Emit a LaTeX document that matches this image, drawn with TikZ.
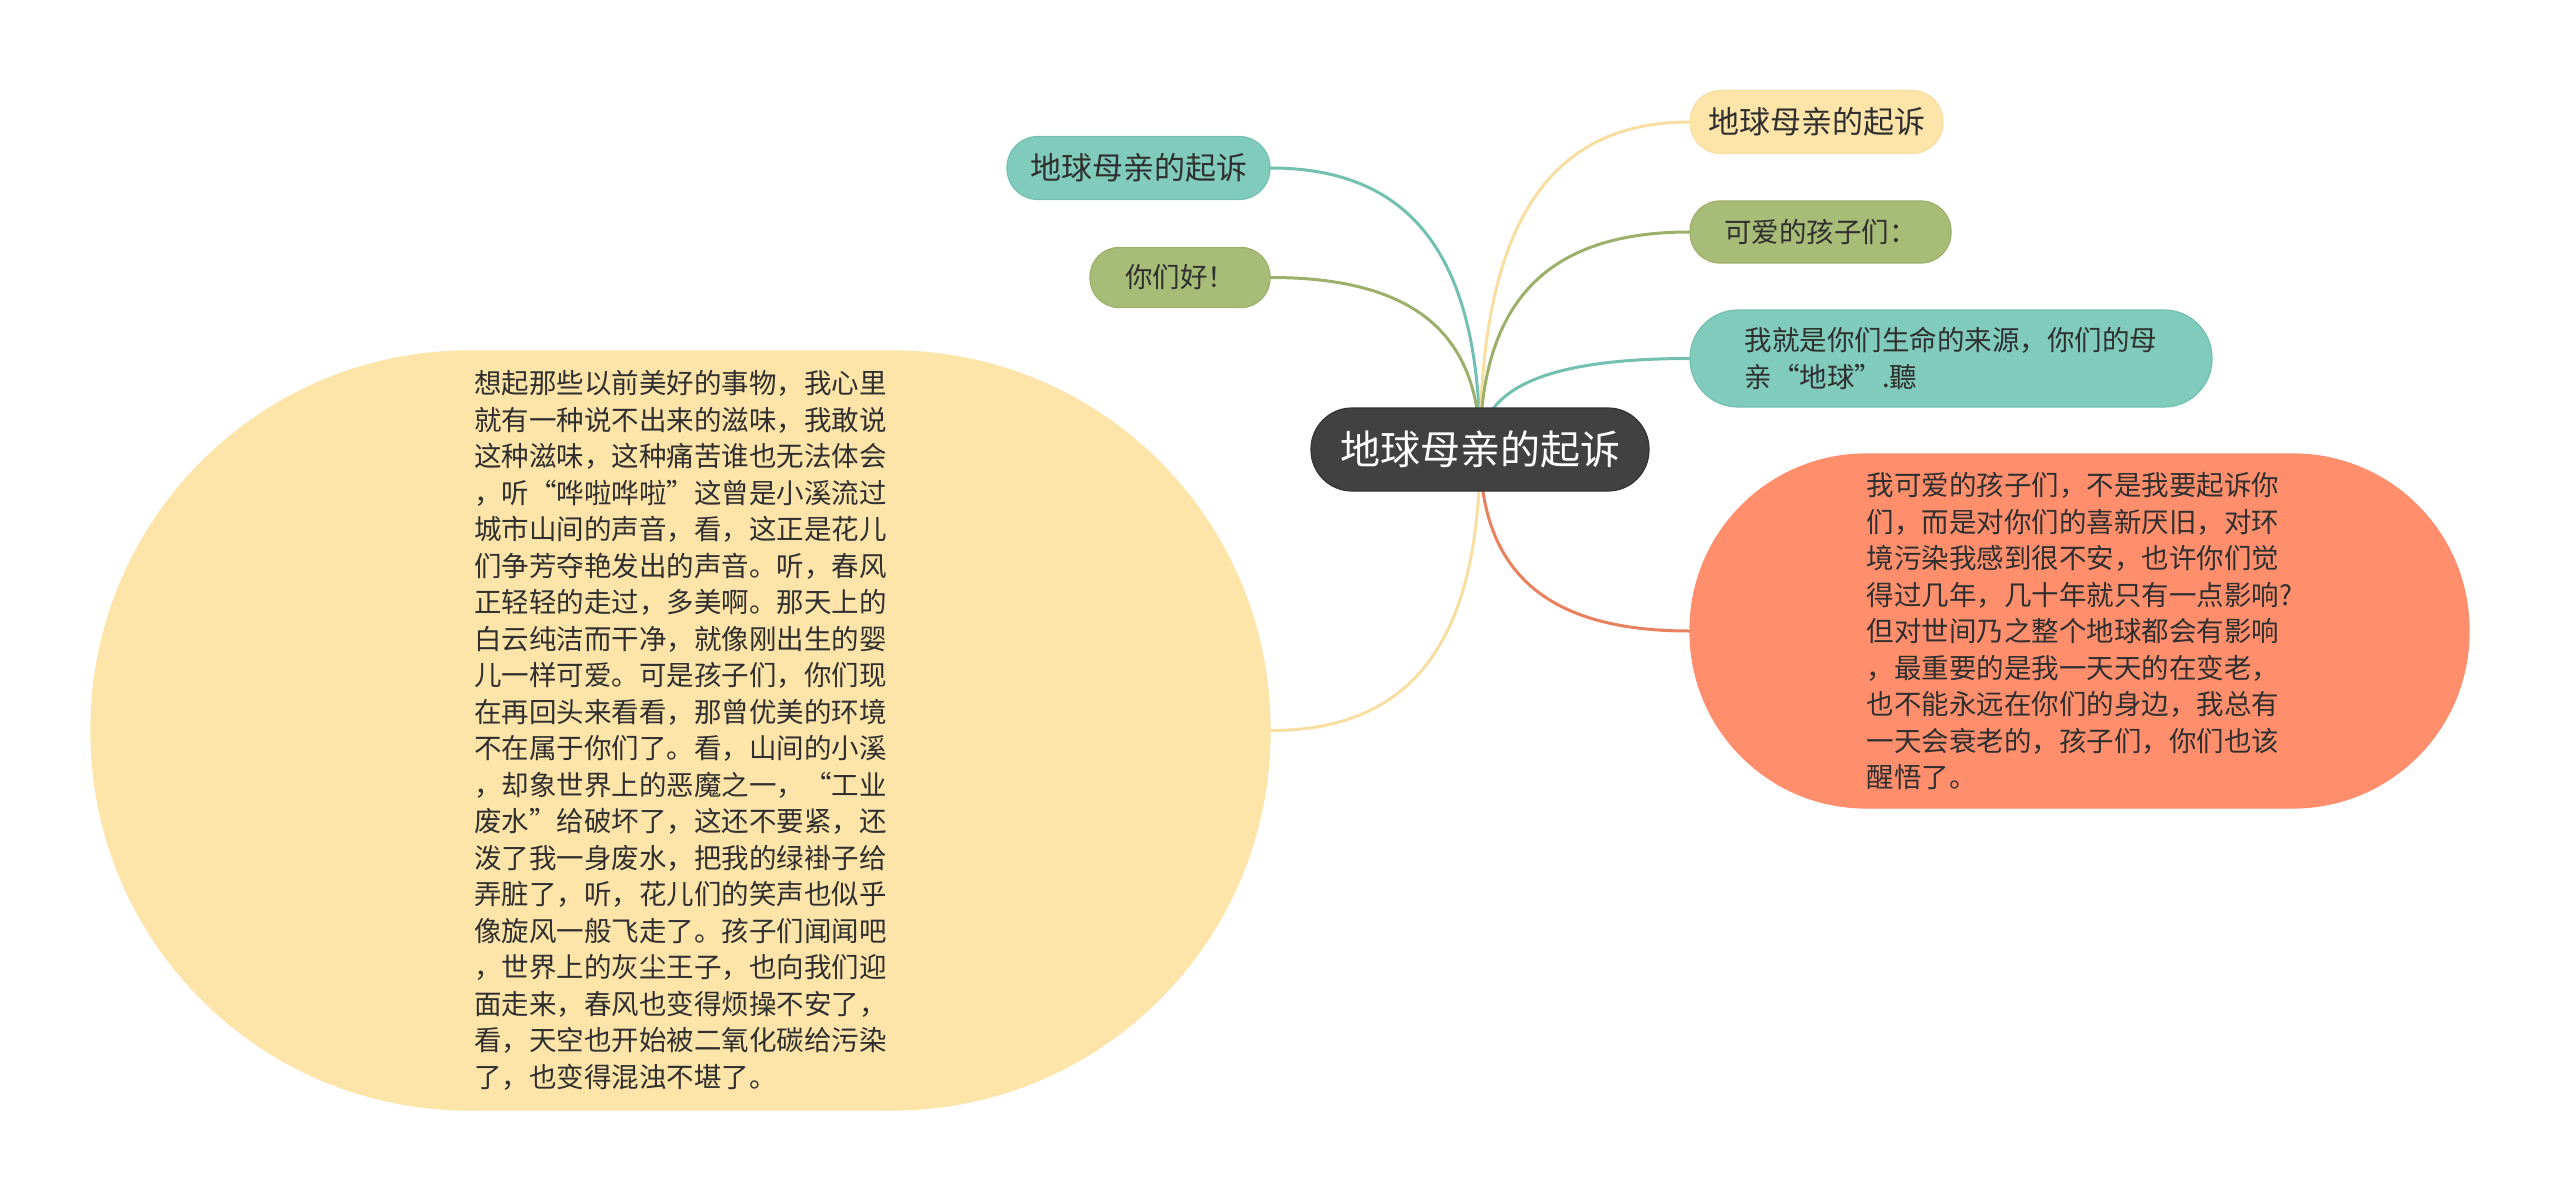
\documentclass[tikz,border=0pt]{standalone}
\usepackage{fontspec}
\setmainfont{Noto Sans CJK SC}
\usetikzlibrary{calc}
\pgfdeclarelayer{bg}
\pgfsetlayers{bg,main}
\definecolor{tealF}{HTML}{80CBBC}
\definecolor{tealL}{HTML}{72C0B2}
\definecolor{greenF}{HTML}{A7BC77}
\definecolor{greenL}{HTML}{9CB06C}
\definecolor{yelF}{HTML}{FDE4A9}
\definecolor{yelL}{HTML}{F9DEA2}
\definecolor{salF}{HTML}{FE8E6C}
\definecolor{salL}{HTML}{E9815F}
\definecolor{rootF}{HTML}{414141}
\definecolor{txt}{HTML}{2F2F2F}
\begin{document}
\begin{tikzpicture}[x=1pt,y=-1pt,
  pill/.style={rectangle, rounded corners=#1, inner sep=0pt, align=left, text=txt, line width=1.2pt},
  small/.style={font=\fontsize{27.5}{36.5}\selectfont},
  mid/.style={font=\fontsize{31}{36.5}\selectfont},
  link/.style={line width=3pt, line cap=round},
  quad/.style={to path={.. controls ($(\tikztostart)!0.68!(\tikztostart|-\tikztotarget)$) and ($(\tikztotarget)!0.68!(\tikztostart|-\tikztotarget)$) .. (\tikztotarget)}}
]
\useasboundingbox (0,0) rectangle (2560,1201);

% root
\node[pill=41pt, fill=rootF, draw=rootF!80!black, minimum width=338pt, minimum height=83pt,
  text=white, font=\fontsize{40}{48}\selectfont] (root) at (1480,449.5) {地球母亲的起诉};

% left side
\node[pill=31pt, fill=tealF, draw=tealL, minimum width=263pt, minimum height=63pt, mid]
  (l1) at (1138.5,168) {地球母亲的起诉};
\node[pill=29pt, fill=greenF, draw=greenL, minimum width=180pt, minimum height=60pt, small]
  (l2) at (1180,277.5) {你们好！};
\node[pill=378pt, fill=yelF, draw=yelF, minimum width=1179pt, minimum height=759pt, small]
  (l3) at (680.5,730.5) {想起那些以前美好的事物，我心里\\
就有一种说不出来的滋味，我敢说\\
这种滋味，这种痛苦谁也无法体会\\
，听“哗啦哗啦”这曾是小溪流过\\
城市山间的声音，看，这正是花儿\\
们争芳夺艳发出的声音。听，春风\\
正轻轻的走过，多美啊。那天上的\\
白云纯洁而干净，就像刚出生的婴\\
儿一样可爱。可是孩子们，你们现\\
在再回头来看看，那曾优美的环境\\
不在属于你们了。看，山间的小溪\\
，却象世界上的恶魔之一，“工业\\
废水”给破坏了，这还不要紧，还\\
泼了我一身废水，把我的绿褂子给\\
弄脏了，听，花儿们的笑声也似乎\\
像旋风一般飞走了。孩子们闻闻吧\\
，世界上的灰尘王子，也向我们迎\\
面走来，春风也变得烦操不安了，\\
看，天空也开始被二氧化碳给污染\\
了，也变得混浊不堪了。};

% right side
\node[pill=31pt, fill=yelF, draw=yelL, minimum width=253pt, minimum height=63pt, mid]
  (r1) at (1816.5,122) {地球母亲的起诉};
\node[pill=30pt, fill=greenF, draw=greenL, minimum width=261pt, minimum height=62pt, small]
  (r2) at (1820.5,232) {可爱的孩子们：};
\node[pill=48pt, fill=tealF, draw=tealL, minimum width=522pt, minimum height=97pt, small]
  (r3) at (1951,358.5) {我就是你们生命的来源，你们的母\\亲“地球”.聽};
\node[pill=176pt, fill=salF, draw=salF, minimum width=779pt, minimum height=354pt, small]
  (r4) at (2079.5,631) {我可爱的孩子们，不是我要起诉你\\
们，而是对你们的喜新厌旧，对环\\
境污染我感到很不安，也许你们觉\\
得过几年，几十年就只有一点影响?\\
但对世间乃之整个地球都会有影响\\
，最重要的是我一天天的在变老，\\
也不能永远在你们的身边，我总有\\
一天会衰老的，孩子们，你们也该\\
醒悟了。};

\begin{pgfonlayer}{bg}
\fill[white] (0,0) rectangle (2560,1201);
\draw[link, tealL] (root.center) to[quad] (l1.east);
\draw[link, greenL] (root.center) to[quad] (l2.east);
\draw[link, yelL] (root.center) to[quad] (l3.east);
\draw[link, yelL] (root.center) to[quad] (r1.west);
\draw[link, greenL] (root.center) to[quad] (r2.west);
\draw[link, tealL] (root.center) to[quad] (r3.west);
\draw[link, salL] (root.center) to[quad] (r4.west);
\end{pgfonlayer}
\end{tikzpicture}
\end{document}
